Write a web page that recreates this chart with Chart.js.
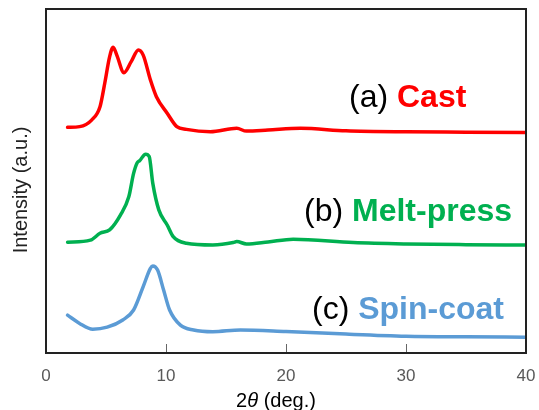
<!DOCTYPE html>
<html>
<head>
<meta charset="utf-8">
<script src="https://cdn.jsdelivr.net/npm/chart.js@4"></script>
<style>
  body { margin: 0; background: #fff; }
  canvas { display: block; }
</style>
</head>
<body>
<canvas id="xrd" width="539" height="410"></canvas>
<script>
/* =========================
   DATA
========================= */

const xTicks = [0, 10, 20, 30, 40];

const castX = [1.8, 2.8, 3.8, 4.5, 4.9, 5.3, 5.6, 5.9, 6.5, 7.1, 7.7, 8.1, 8.7, 9.2, 10.1, 10.9, 11.7, 13.7, 15.9, 16.7, 18.5, 21.2, 25, 30, 35, 40];
const castY = [65.6, 65.8, 67.7, 71.6, 78.5, 86.1, 88.9, 86.6, 81.5, 84.7, 88.1, 86.6, 79.4, 74.5, 69.7, 65.8, 65.0, 64.3, 65.3, 64.5, 64.8, 65.3, 64.6, 64.3, 64.2, 64.1];

const meltX = [1.8, 3.7, 4.5, 5.3, 6.2, 6.9, 7.3, 7.6, 7.8, 8.3, 8.6, 8.9, 9.4, 10.1, 10.6, 11.7, 13.9, 15.6, 15.9, 16.7, 18.5, 20.6, 25.6, 30, 35, 40];
const meltY = [32.2, 32.8, 34.8, 35.8, 40.1, 45.4, 52.2, 55.3, 55.9, 57.8, 57.1, 49.3, 41.6, 37.2, 33.8, 31.9, 31.4, 32.1, 32.4, 31.7, 32.3, 33.1, 32.1, 31.7, 31.5, 31.4];

const spinX = [1.8, 2.8, 3.9, 5.1, 6.4, 7.3, 8.1, 8.7, 8.9, 9.3, 9.8, 10.3, 11.2, 12.3, 13.9, 16.2, 20, 25, 30, 35, 40];
const spinY = [11.0, 8.6, 6.9, 7.5, 9.6, 12.5, 19.3, 24.6, 25.3, 24.1, 18.3, 12.5, 8.1, 6.7, 6.2, 6.7, 6.25, 5.5, 4.9, 4.7, 4.6];

const labels = [
    { pre: "(a) ", name: "Cast",       color: "#ff0000", x: 349, y: 98 },
    { pre: "(b) ", name: "Melt-press", color: "#00b050", x: 304, y: 212 },
    { pre: "(c) ", name: "Spin-coat",  color: "#5b9bd5", x: 312, y: 310 }
];

const FONT = "'Liberation Sans', Arial, sans-serif";

function pts(xs, ys) {
    return xs.map((x, i) => ({ x: x, y: ys[i] }));
}

function line(data, color) {
    return {
        data: data,
        borderColor: color,
        borderWidth: 3.5,
        pointRadius: 0,
        fill: false,
        cubicInterpolationMode: "monotone",
        borderCapStyle: "round",
        borderJoinStyle: "round"
    };
}

/* =========================
   FRAME, TICKS, TEXT
========================= */

const decor = {
    id: "decor",
    afterDraw(chart) {
        const ctx = chart.ctx;
        const a = chart.chartArea;
        const xs = chart.scales.x;

        ctx.save();

        // inner ticks on the bottom
        ctx.strokeStyle = "#666";
        ctx.lineWidth = 1;
        xTicks.forEach(t => {
            let px = Math.round(xs.getPixelForValue(t)) + 0.5;
            ctx.beginPath();
            ctx.moveTo(px, a.bottom);
            ctx.lineTo(px, a.bottom - 9);
            ctx.stroke();
        });

        // frame
        ctx.strokeStyle = "#222";
        ctx.lineWidth = 2;
        ctx.strokeRect(a.left, a.top, a.right - a.left, a.bottom - a.top);

        // tick labels
        ctx.fillStyle = "#595959";
        ctx.font = "17px " + FONT;
        ctx.textAlign = "center";
        ctx.textBaseline = "middle";
        xTicks.forEach(t => ctx.fillText(String(t), xs.getPixelForValue(t), a.bottom + 23));

        // x title: 2θ (deg.)
        ctx.fillStyle = "#000";
        ctx.textAlign = "left";
        let fs = "20px " + FONT, fi = "italic 20px " + FONT;
        let p1 = "2", p2 = "θ", p3 = " (deg.)";
        ctx.font = fs;
        let w1 = ctx.measureText(p1).width;
        let w3 = ctx.measureText(p3).width;
        ctx.font = fi;
        let w2 = ctx.measureText(p2).width;
        let sx = 276 - (w1 + w2 + w3) / 2;
        let ty = a.bottom + 48;
        ctx.font = fs;
        ctx.fillText(p1, sx, ty);
        ctx.font = fi;
        ctx.fillText(p2, sx + w1, ty);
        ctx.font = fs;
        ctx.fillText(p3, sx + w1 + w2, ty);

        // y title
        ctx.save();
        ctx.translate(21, 190);
        ctx.rotate(-Math.PI / 2);
        ctx.textAlign = "center";
        ctx.fillStyle = "#222";
        ctx.font = "20px " + FONT;
        ctx.fillText("Intensity (a.u.)", 0, 0);
        ctx.restore();

        // sample labels
        labels.forEach(l => {
            ctx.textAlign = "left";
            ctx.font = "32px " + FONT;
            ctx.fillStyle = "#000";
            ctx.fillText(l.pre, l.x, l.y);
            let w = ctx.measureText(l.pre).width;
            ctx.font = "bold 32px " + FONT;
            ctx.fillStyle = l.color;
            ctx.fillText(l.name, l.x + w, l.y);
        });

        ctx.restore();
    }
};

/* =========================
   CHART
========================= */

new Chart(document.getElementById("xrd"), {
    type: "line",
    data: {
        datasets: [
            line(pts(castX, castY), "#ff0000"),
            line(pts(meltX, meltY), "#00b050"),
            line(pts(spinX, spinY), "#5b9bd5")
        ]
    },
    options: {
        responsive: false,
        animation: false,
        layout: { padding: { left: 46, right: 13, top: 9, bottom: 57 } },
        plugins: {
            legend: { display: false },
            tooltip: { enabled: false }
        },
        scales: {
            x: { type: "linear", min: 0, max: 40, display: false },
            y: { type: "linear", min: 0, max: 100, display: false }
        }
    },
    plugins: [decor]
});
</script>
</body>
</html>
